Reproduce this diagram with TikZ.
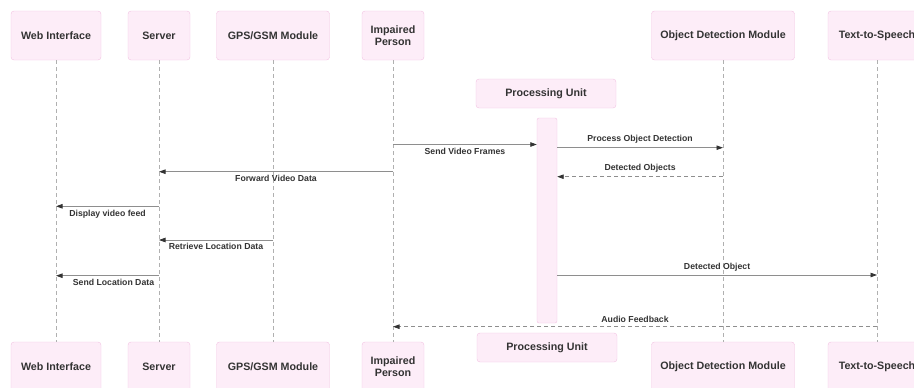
\documentclass[tikz,border=0pt]{standalone}
\usepackage{fontspec}
\setmainfont{Liberation Sans}
\usetikzlibrary{arrows.meta}

\definecolor{actorfill}{HTML}{FDEDF8}
\definecolor{actorline}{HTML}{F2C2E2}
\definecolor{msgline}{HTML}{8E8E8E}
\definecolor{msgtext}{HTML}{333333}
\definecolor{lifegray}{HTML}{B0B0B0}

\begin{document}
\begin{tikzpicture}[
    x=1pt, y=-1pt,
    font=\bfseries\fontsize{10.7}{12.6}\selectfont,
    actor/.style={draw=actorline, fill=actorfill, rounded corners=3pt, align=center,
                  text=msgtext, inner sep=2pt, minimum height=49pt},
    unit/.style={actor, minimum width=140pt, minimum height=29pt},
    activation/.style={draw=actorline, fill=actorfill, rounded corners=2pt,
                       minimum width=20pt, minimum height=205pt, inner sep=0pt},
    life/.style={draw=lifegray, line width=0.8pt, dash pattern=on 4pt off 3pt},
    msg/.style={draw=msgline, line width=0.8pt,
                -{Triangle[length=6.5pt, width=4.5pt, color=msgtext, fill=msgtext]}},
    reply/.style={msg, dash pattern=on 4pt off 3pt},
    lbl/.style={font=\bfseries\fontsize{8.7}{10}\selectfont, text=msgtext, inner sep=1.5pt},
]

\clip (0,0) rectangle (914,388);

% participants, top row
\node[actor, minimum width=90pt]  (web)  at (56,35.5)  {Web Interface};
\node[actor, minimum width=62pt]  (srv)  at (159,35.5) {Server};
\node[actor, minimum width=113pt] (gps)  at (273,35.5) {GPS/GSM Module};
\node[actor, minimum width=62pt]  (ip)   at (393,35.5) {Impaired\\Person};
\node[unit]                       (pu)   at (546,93.5) {Processing Unit};
\node[actor, minimum width=143pt] (odm)  at (723,35.5) {Object Detection Module};
\node[actor, minimum width=98pt]  (tts)  at (877,35.5) {Text-to-Speech};

% participants, bottom row
\node[actor, minimum width=90pt]  (webB) at (56,366.5)  {Web Interface};
\node[actor, minimum width=62pt]  (srvB) at (159,366.5) {Server};
\node[actor, minimum width=113pt] (gpsB) at (273,366.5) {GPS/GSM Module};
\node[actor, minimum width=62pt]  (ipB)  at (393,366.5) {Impaired\\Person};
\node[unit]                       (puB)  at (547,347.5) {Processing Unit};
\node[actor, minimum width=143pt] (odmB) at (723,366.5) {Object Detection Module};
\node[actor, minimum width=98pt]  (ttsB) at (877,366.5) {Text-to-Speech};

% lifelines
\foreach \a in {web, srv, gps, ip, odm, tts}
    \draw[life] (\a.south) -- (\a B.north);

% activation of the processing unit
\node[activation] (act) at (547,220.5) {};

% message rows
\foreach \n/\y in {frames/144.5, detect/147.7, forward/171.7, objects/176.7,
                   display/206.3, locate/240, object/275, sendloc/275.7, audio/326.7}
    \coordinate (\n) at (0,\y);

\draw[msg] (ip |- frames) -- node[lbl, below=1.5pt] {Send Video Frames} (act.west |- frames);
\draw[msg] (act.east |- detect) -- node[lbl, above=2pt] {Process Object Detection} (odm |- detect);
\draw[msg] (ip |- forward) -- node[lbl, below=1.5pt] {Forward Video Data} (srv |- forward);
\draw[reply] (odm |- objects) -- node[lbl, above=2pt] {Detected Objects} (act.east |- objects);
\draw[msg] (srv |- display) -- node[lbl, below=1.5pt] {Display video feed} (web |- display);
\draw[msg] (gps |- locate) -- node[lbl, below=1.5pt] {Retrieve Location Data} (srv |- locate);
\draw[msg] (act.east |- object) -- node[lbl, above=2pt] {Detected Object} (tts |- object);
\draw[msg] (srv |- sendloc) -- node[lbl, below=1.5pt, xshift=6pt] {Send Location Data} (web |- sendloc);
\draw[reply] (tts |- audio) -- node[lbl, above=2pt] {Audio Feedback} (ip |- audio);

\end{tikzpicture}
\end{document}
